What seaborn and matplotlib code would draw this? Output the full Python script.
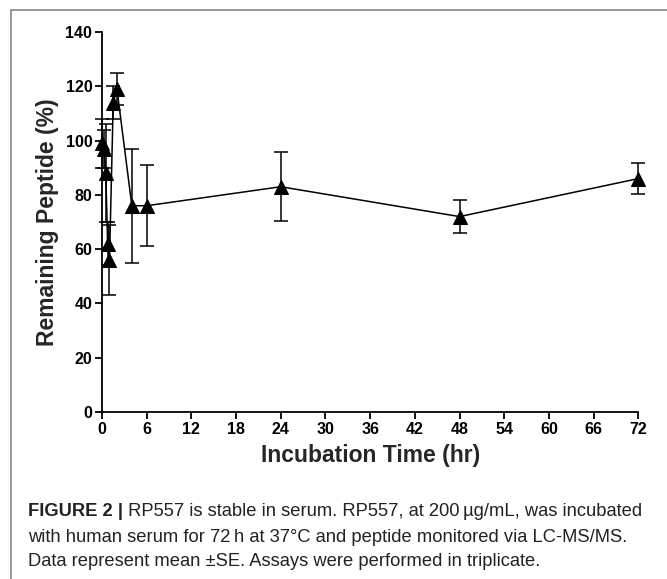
import matplotlib
matplotlib.use("Agg")
import matplotlib.pyplot as plt
from matplotlib.lines import Line2D
import seaborn as sns
import pandas as pd

times = [0, 0.25, 0.5, 0.75, 1, 1.5, 2, 4, 6, 24, 48, 72]
means = [99, 97, 88, 62, 56, 114, 119, 76, 76, 83, 72, 86]
sems = [9, 7, 18, 8, 13, 6, 6, 21, 15, 12.7, 6.2, 5.7]
xticks = [0, 6, 12, 18, 24, 30, 36, 42, 48, 54, 60, 66, 72]
yticks = [0, 20, 40, 60, 80, 100, 120, 140]
xlabel = "Incubation Time (hr)"
ylabel = "Remaining Peptide (%)"
cap_bold = "FIGURE 2 |"
cap_line1 = " RP557 is stable in serum. RP557, at 200\u2009\u00b5g/mL, was incubated"
cap_line2 = "with human serum for 72\u2009h at 37\u00b0C and peptide monitored via LC-MS/MS."
cap_line3 = "Data represent mean \u00b1SE. Assays were performed in triplicate."

sns.set_theme(style="ticks")
plt.rcParams['font.family'] = ['Liberation Sans', 'DejaVu Sans']

df = pd.DataFrame({"time": times, "mean": means, "sem": sems})

fig = plt.figure(figsize=(6.67, 5.79), dpi=100)
ax = fig.add_axes([0.153, 0.2884, 0.804, 0.6563])

ax.errorbar(df["time"], df["mean"], yerr=df["sem"], fmt="none", ecolor="black",
            elinewidth=1.1, capsize=5, capthick=1.1, clip_on=False, zorder=2)
sns.lineplot(data=df, x="time", y="mean", ax=ax, color="black", linewidth=1.1,
             marker="^", markersize=10, markeredgecolor="black", clip_on=False, zorder=3)

ax.set_xlim(0, 72)
ax.set_ylim(0, 140)
ax.set_xticks(xticks)
ax.set_yticks(yticks)
for s in ["top", "right"]:
    ax.spines[s].set_visible(False)
for s in ["left", "bottom"]:
    ax.spines[s].set_linewidth(1.3)
    ax.spines[s].set_color("black")
ax.tick_params(direction="out", length=5, width=1.3, colors="black", labelsize=11.5, pad=2)
for lab in ax.get_xticklabels() + ax.get_yticklabels():
    lab.set_fontweight("bold")
ax.set_xlabel(xlabel, fontsize=16.5, fontweight="bold", labelpad=5)
ax.set_ylabel(ylabel, fontsize=16.5, fontweight="bold", labelpad=5)

# frame
fig.add_artist(Line2D([11/667, 11/667], [0, 1 - 10/579], color="#888888", lw=1.2, transform=fig.transFigure))
fig.add_artist(Line2D([11/667, 1.0], [1 - 10/579, 1 - 10/579], color="#888888", lw=1.2, transform=fig.transFigure))

capfam = ['Liberation Sans', 'DejaVu Sans']
fs = 13.2
x0 = 28/667
tb = fig.text(x0, 1 - 512/579, cap_bold, fontsize=fs, fontweight="bold", family=capfam,
              color="#222222", va="center")
fig.canvas.draw()
bb = tb.get_window_extent()
x1 = bb.x1 / fig.bbox.width
fig.text(x1, 1 - 512/579, cap_line1, fontsize=fs, family=capfam, color="#222222", va="center")
fig.text(x0, 1 - 537/579, cap_line2, fontsize=fs, family=capfam, color="#222222", va="center")
fig.text(x0, 1 - 561/579, cap_line3, fontsize=fs, family=capfam, color="#222222", va="center")

fig.savefig("out.png", dpi=100)
